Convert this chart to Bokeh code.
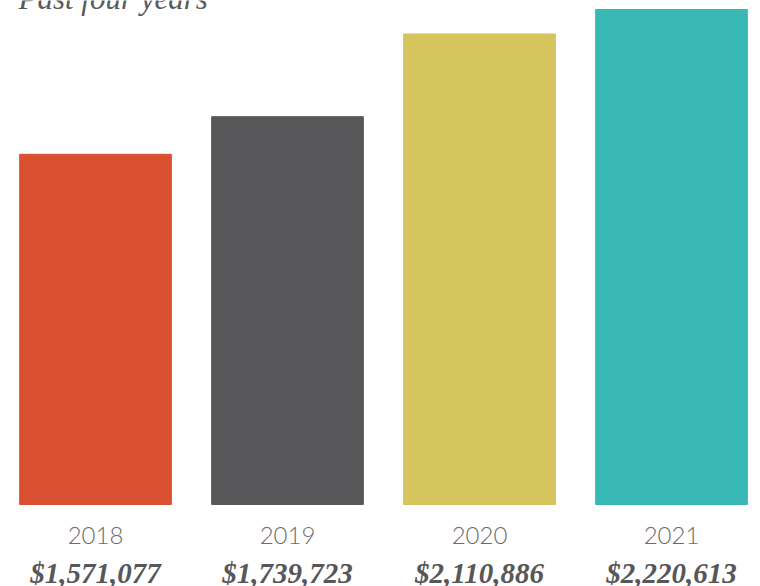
from bokeh.plotting import figure
from bokeh.models import Range1d, Label, ColumnDataSource
from bokeh.embed import file_html
from bokeh.resources import INLINE

years = ["2018", "2019", "2020", "2021"]
values = [1571077, 1739723, 2110886, 2220613]
colors = ["#D95031", "#58585A", "#D6C45D", "#38B9B5"]
title_text = "Past four years"

x = list(range(len(years)))
src = ColumnDataSource(dict(x=x, top=values, color=colors))

BG = "#ECE9E5"
p = figure(width=760, height=586, output_backend="svg", toolbar_location=None,
           x_axis_type=None, y_axis_type=None,
           x_range=Range1d(-0.4948, 3.4635), y_range=Range1d(-367900, 2261000),
           min_border=0)
p.background_fill_color = None
p.border_fill_color = BG
p.outline_line_color = None
p.grid.visible = False

p.vbar(x="x", top="top", bottom=0, width=0.79, color="color", source=src)

for i, (yr, v) in enumerate(zip(years, values)):
    p.add_layout(Label(x=i, y=51, y_units="screen", text=yr, text_align="center",
                       text_baseline="alphabetic", text_font="Lato Light",
                       text_font_size="24px", text_color="#6B6C6E"))
    p.add_layout(Label(x=i, y=14, y_units="screen", text="${:,}".format(v), text_align="center",
                       text_baseline="alphabetic", text_font="Liberation Serif",
                       text_font_style="bold italic",
                       text_font_size="29px", text_color="#57575A"))

p.add_layout(Label(x=18, y=588, x_units="screen", y_units="screen", text=title_text,
                   text_baseline="alphabetic", text_font="Liberation Serif",
                   text_font_style="italic", text_font_size="31px", text_color="#5A5A5C"))

open("out.html", "w").write(file_html(p, INLINE))
